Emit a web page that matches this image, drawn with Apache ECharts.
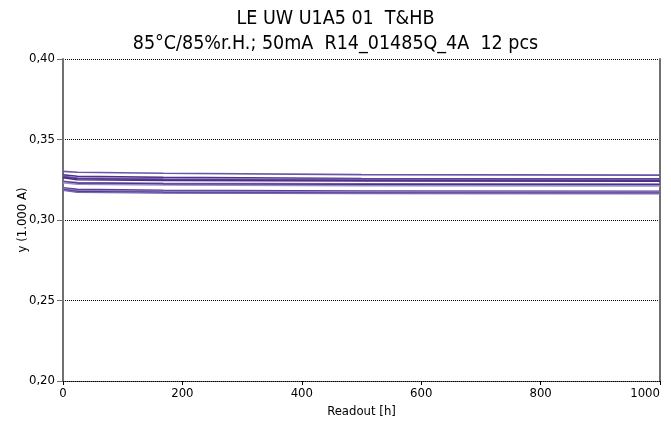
<!DOCTYPE html>
<html><head><meta charset="utf-8">
<script src="https://cdn.jsdelivr.net/npm/echarts@6/dist/echarts.min.js"></script>
<style>html,body{margin:0;padding:0;background:#fff}#c{width:671px;height:425px}</style>
</head><body><div id="c"></div>
<script>
const titleLine1 = "LE UW U1A5 01  T&HB";
const titleLine2 = "85°C/85%r.H.; 50mA  R14_01485Q_4A  12 pcs";
const xName = "Readout [h]";
const yName = "y (1.000 A)";
const readouts = [0, 24, 168, 500, 1000];
const s01 = [0.3302, 0.3297, 0.3290, 0.3282, 0.3279];
const s02 = [0.3280, 0.3272, 0.3265, 0.3258, 0.3256];
const s03 = [0.3272, 0.3262, 0.3256, 0.3252, 0.3251];
const s04 = [0.3268, 0.3258, 0.3252, 0.3247, 0.3246];
const s05 = [0.3262, 0.3250, 0.3245, 0.3242, 0.3241];
const s06 = [0.3240, 0.3232, 0.3228, 0.3225, 0.3224];
const s07 = [0.3236, 0.3228, 0.3223, 0.3220, 0.3219];
const s08 = [0.3232, 0.3222, 0.3217, 0.3213, 0.3212];
const s09 = [0.3200, 0.3190, 0.3184, 0.3180, 0.3179];
const s10 = [0.3195, 0.3183, 0.3178, 0.3174, 0.3173];
const s11 = [0.3188, 0.3176, 0.3171, 0.3167, 0.3166];
const s12 = [0.3185, 0.3172, 0.3168, 0.3165, 0.3164];
const allSeries = [s01,s02,s03,s04,s05,s06,s07,s08,s09,s10,s11,s12];
const colors = ['#6a55a8','#4f3388','#8a78c0','#5a3d94','#4b2e83','#7b68b5','#4f3388','#9a8cc8','#5a3d94','#8a78c0','#4b2e83','#7b68b5'];

const font = '"DejaVu Sans Condensed", "DejaVu Sans", sans-serif';
const chart = echarts.init(document.getElementById('c'), null, {renderer:'canvas'});
chart.setOption({
  animation:false,
  backgroundColor:'#fff',
  title:{
    text: titleLine1 + '\n' + titleLine2,
    left:'center', top:2,
    textStyle:{fontFamily:font, fontSize:19.5, fontWeight:'normal', color:'#000', lineHeight:24.5}
  },
  grid:{left:63, right:11, top:59, bottom:44, outerBoundsMode:'none', containLabel:false},
  xAxis:{
    type:'value', min:0, max:1000, interval:200,
    name:xName, nameLocation:'middle', nameGap:24, nameMoveOverlap:false,
    nameTextStyle:{fontFamily:font, fontSize:13, color:'#000'},
    axisLine:{onZero:false, lineStyle:{color:'#000', type:'dotted', width:1}},
    axisTick:{show:true, length:4, lineStyle:{color:'#000'}},
    axisLabel:{fontFamily:font, fontSize:13, color:'#000', margin:6, alignMaxLabel:'right',
      formatter:v=>String(v)},
    splitLine:{show:false}
  },
  yAxis:[{
    type:'value', min:0.20, max:0.40, interval:0.05,
    name:yName, nameLocation:'middle', nameGap:34, nameRotate:90, nameMoveOverlap:false,
    nameTextStyle:{fontFamily:font, fontSize:13, color:'#000'},
    axisLine:{show:true, lineStyle:{color:'#707070', width:2}},
    axisTick:{show:true, length:6, lineStyle:{color:'#707070'}},
    axisLabel:{fontFamily:font, fontSize:13, color:'#000', margin:8,
      formatter:v=>v.toFixed(2).replace('.',',')},
    splitLine:{show:true, lineStyle:{color:'#000', type:'dotted', width:1}}
  },{
    type:'value', min:0.20, max:0.40, interval:0.05, position:'right',
    axisLine:{show:true, lineStyle:{color:'#707070', width:2}},
    axisTick:{show:false}, axisLabel:{show:false}, splitLine:{show:false}
  }],
  series: allSeries.map((s,i)=>({
    type:'line', showSymbol:false, symbol:'none',
    data: readouts.map((x,j)=>[x, s[j]]),
    lineStyle:{color:colors[i], width:1.6}, itemStyle:{color:colors[i]}
  }))
});
</script></body></html>
